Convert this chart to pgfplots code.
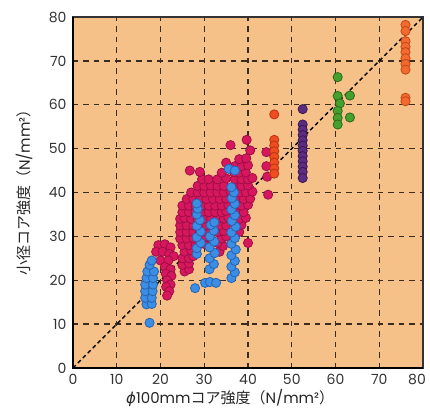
\documentclass[border=0pt]{standalone}
\usepackage{fontspec}
\setmainfont{Noto Sans CJK JP}
\newfontfamily\pop{Poppins}
\newfontfamily\dejo{DejaVu Sans}
\usepackage{pgfplots}
\pgfplotsset{compat=1.18}

\definecolor{bgtan}{HTML}{F5C189}
\definecolor{gridbrown}{HTML}{3A2C1E}
\definecolor{magfill}{HTML}{D6175E}
\definecolor{magedge}{HTML}{A00E48}
\definecolor{bluefill}{HTML}{3C8EE4}
\definecolor{blueedge}{HTML}{2563B4}
\definecolor{redfill}{HTML}{EE4E1F}
\definecolor{rededge}{HTML}{B93412}
\definecolor{purfill}{HTML}{5B2C80}
\definecolor{puredge}{HTML}{3B1758}
\definecolor{grnfill}{HTML}{46A02E}
\definecolor{grnedge}{HTML}{2A6A18}
\definecolor{orgfill}{HTML}{F26A2E}
\definecolor{orgedge}{HTML}{C04818}

\begin{document}
\begin{tikzpicture}
\path[use as bounding box] (-73pt,-41pt) rectangle (357pt,368pt);
\begin{axis}[
    scale only axis,
    width=350pt, height=351pt,
    xmin=0, xmax=80, ymin=0, ymax=80,
    xtick={0,10,...,70}, ytick={0,10,...,80},
    extra x ticks={80},
    extra x tick style={grid=none, xticklabel style={xshift=-6pt}},
    major tick length=0pt,
    axis background/.style={fill=bgtan},
    grid=major,
    major grid style={gridbrown, line width=1.3pt, dash pattern=on 5.5pt off 5pt},
    axis line style={line width=1.2pt, black!80},
    /pgf/number format/assume math mode=true,
    ticklabel style={font=\pop\fontsize{14}{16}\selectfont, text=black!80},
    xticklabel style={yshift=-3pt},
    yticklabel style={xshift=-3pt},
    xlabel={{\dejo\itshape ϕ}{\pop 100mm}コア強度（{\pop N/mm²}）},
    ylabel={小径コア強度（{\pop N/mm²}）},
    label style={font=\fontsize{15}{17}\selectfont, text=black!85},
    xlabel style={at={(axis description cs:0.449,-0.086)}, anchor=center},
    ylabel style={at={(axis description cs:-0.14,0.51)}, anchor=center},
    clip=false,
    every axis plot/.append style={only marks, mark=*, mark size=4.6pt, line width=0.8pt},
]
% boundary diagonal
\addplot[no marks, only marks=false, sharp plot, black, line width=1.4pt, dash pattern=on 4pt off 3pt]
    coordinates {(0,0) (80,80)};

% magenta
\addplot[mark options={fill=magfill, draw=magedge}] coordinates {
(19.5,28) (21,28.2) (22.3,27.5) (19,26.5) (20.5,26.5) (22,26) (23,25.5) (20,24.5)
(21.8,24.5) (21,23) (22.3,22.5) (21.2,21.5) (22.5,21) (21.5,20) (22.3,19)
(21.3,18.5) (22,17.5) (21.5,16.5)
(25.5,22) (26.5,22.5) (25,23.5) (26.5,23.8) (25,25) (26.5,25) (27.5,25.5)
(25.5,26.5) (27,26.8) (33.5,26.5) (34.3,27.8)
(25,28) (26.5,28) (28,28.2) (30,28.3) (33,28.5)
(24.5,29.5) (26,29.5) (27.5,29.6) (30,29.8) (31.5,29.6) (34,29.5) (35,30)
(24.5,31) (26,31) (27.5,31) (29,31) (30.5,31) (33,31) (34.5,31.2) (38,31)
(24.5,32.5) (26,32.5) (27.5,32.5) (29,32.5) (30.5,32.5) (32,32.6) (33.5,32.5) (35,32.5) (38.5,32.6)
(24.5,34) (25.5,34.2) (27,34) (28.5,34) (30,34) (31.5,34) (33,34) (34.5,34) (35.5,34.3) (38,34) (39.5,34.2)
(25,35.5) (26.5,35.5) (28,35.5) (29.5,35.6) (31,35.5) (32.5,35.5) (34,35.5) (35,35.8) (37.5,35.5) (39,35.5)
(25,37) (26.5,37) (28,37) (29.5,37) (31,37) (32.5,37) (34,37) (35.5,37.2) (37,37) (38.5,37) (40,37.2)
(26,38.5) (27.5,38.5) (29,38.5) (30.5,38.5) (32,38.5) (33.5,38.5) (35,38.6) (37.5,38.5) (39,38.5) (40.5,38.6)
(27,40) (28.5,40) (30,40) (31.5,40) (33,40) (34.5,40) (36,40.2) (38,40) (39.5,40) (41,40.2)
(28.5,41.5) (30,41.5) (31.5,41.6) (33,41.5) (34.5,41.5) (37,41.5) (38.5,41.5) (40,41.6)
(29.5,43) (31,43) (33,43) (35,43.2) (37,43) (38.5,43) (40,43) (41,43.3)
(26.7,45) (29,44.7) (34,44.5) (36.8,44.6) (38,44.5) (39.5,44.6)
(37,46) (38.5,46) (40,46.2) (35,46.8) (38,47.6) (39.6,47.8)
(40.5,49.6) (36,50.8) (39.7,52)
(44.2,49.2) (44.2,46) (44.4,43.6) (44.6,39.5) (40,28.5)
};

% blue
\addplot[mark options={fill=bluefill, draw=blueedge}] coordinates {
(17.5,10.3)
(16.8,14.5) (18,14.6) (16.5,16) (18,16) (16.5,17.5) (18.2,17.5) (16.5,19) (18.3,19)
(16.8,20.5) (18.3,20.5) (17,22) (18.5,22) (17.5,23.5) (18,24.5)
(28.3,26) (28.3,27.3) (29.2,28.5) (28.3,29.8) (29.2,31.1) (28.3,32.4) (29,33.7) (28.3,35) (28.5,36.3) (28.3,37.5)
(31.2,22.5) (32.2,23.7) (31.2,25) (32.4,26.2) (31.2,27.5) (32.3,28.8) (31.3,30) (32.2,31.3) (31.5,32.6) (32.3,33.2)
(27.9,18.2) (30.2,19.4) (31.3,19.6) (32.7,19.4)
(36.2,20.5) (37,21.8) (36.2,23.1) (37,24.4) (36.2,25.7) (37.2,27) (36.2,28.3) (37,29.6)
(36.2,30.9) (37.2,32.2) (36.3,33.5) (37,34.8) (36.2,36.1) (37,37.4) (36.3,38.7) (36.8,40)
(36.2,41.2) (35.6,45.4) (37,45)
};

% red-orange at 46
\addplot[mark options={fill=redfill, draw=rededge}] coordinates {
(46,57.8) (46,52) (46,50.7) (46,49.4) (46,48.1) (46,46.8) (46,45.5) (46,44.3)
};

% purple at 52
\addplot[mark options={fill=purfill, draw=puredge}] coordinates {
(52.5,59) (52.5,55.5) (52.5,54.3) (52.5,53.1) (52.5,51.9) (52.5,50.7) (52.5,49.5)
(52.5,48.3) (52.5,47.1) (52.5,45.9) (52.5,44.7) (52.5,43.3)
};

% green at 60
\addplot[mark options={fill=grnfill, draw=grnedge}] coordinates {
(60.5,66.3) (60.5,62) (63.3,62.1) (61,60.3) (60.5,58.6) (60.5,57) (63.3,57.1) (60.5,55.5)
};

% orange at 76
\addplot[mark options={fill=orgfill, draw=orgedge}] coordinates {
(76,78.2) (76,76.8) (76,74.5) (76,73.2) (76,72) (76,70.6) (76,69.3) (76,68)
(76,61.6) (76,60.8)
};

\draw[black, line width=2.2pt] (axis cs:0,80) -- (axis cs:0,0) -- (axis cs:80,0);
\end{axis}
\end{tikzpicture}
\end{document}
